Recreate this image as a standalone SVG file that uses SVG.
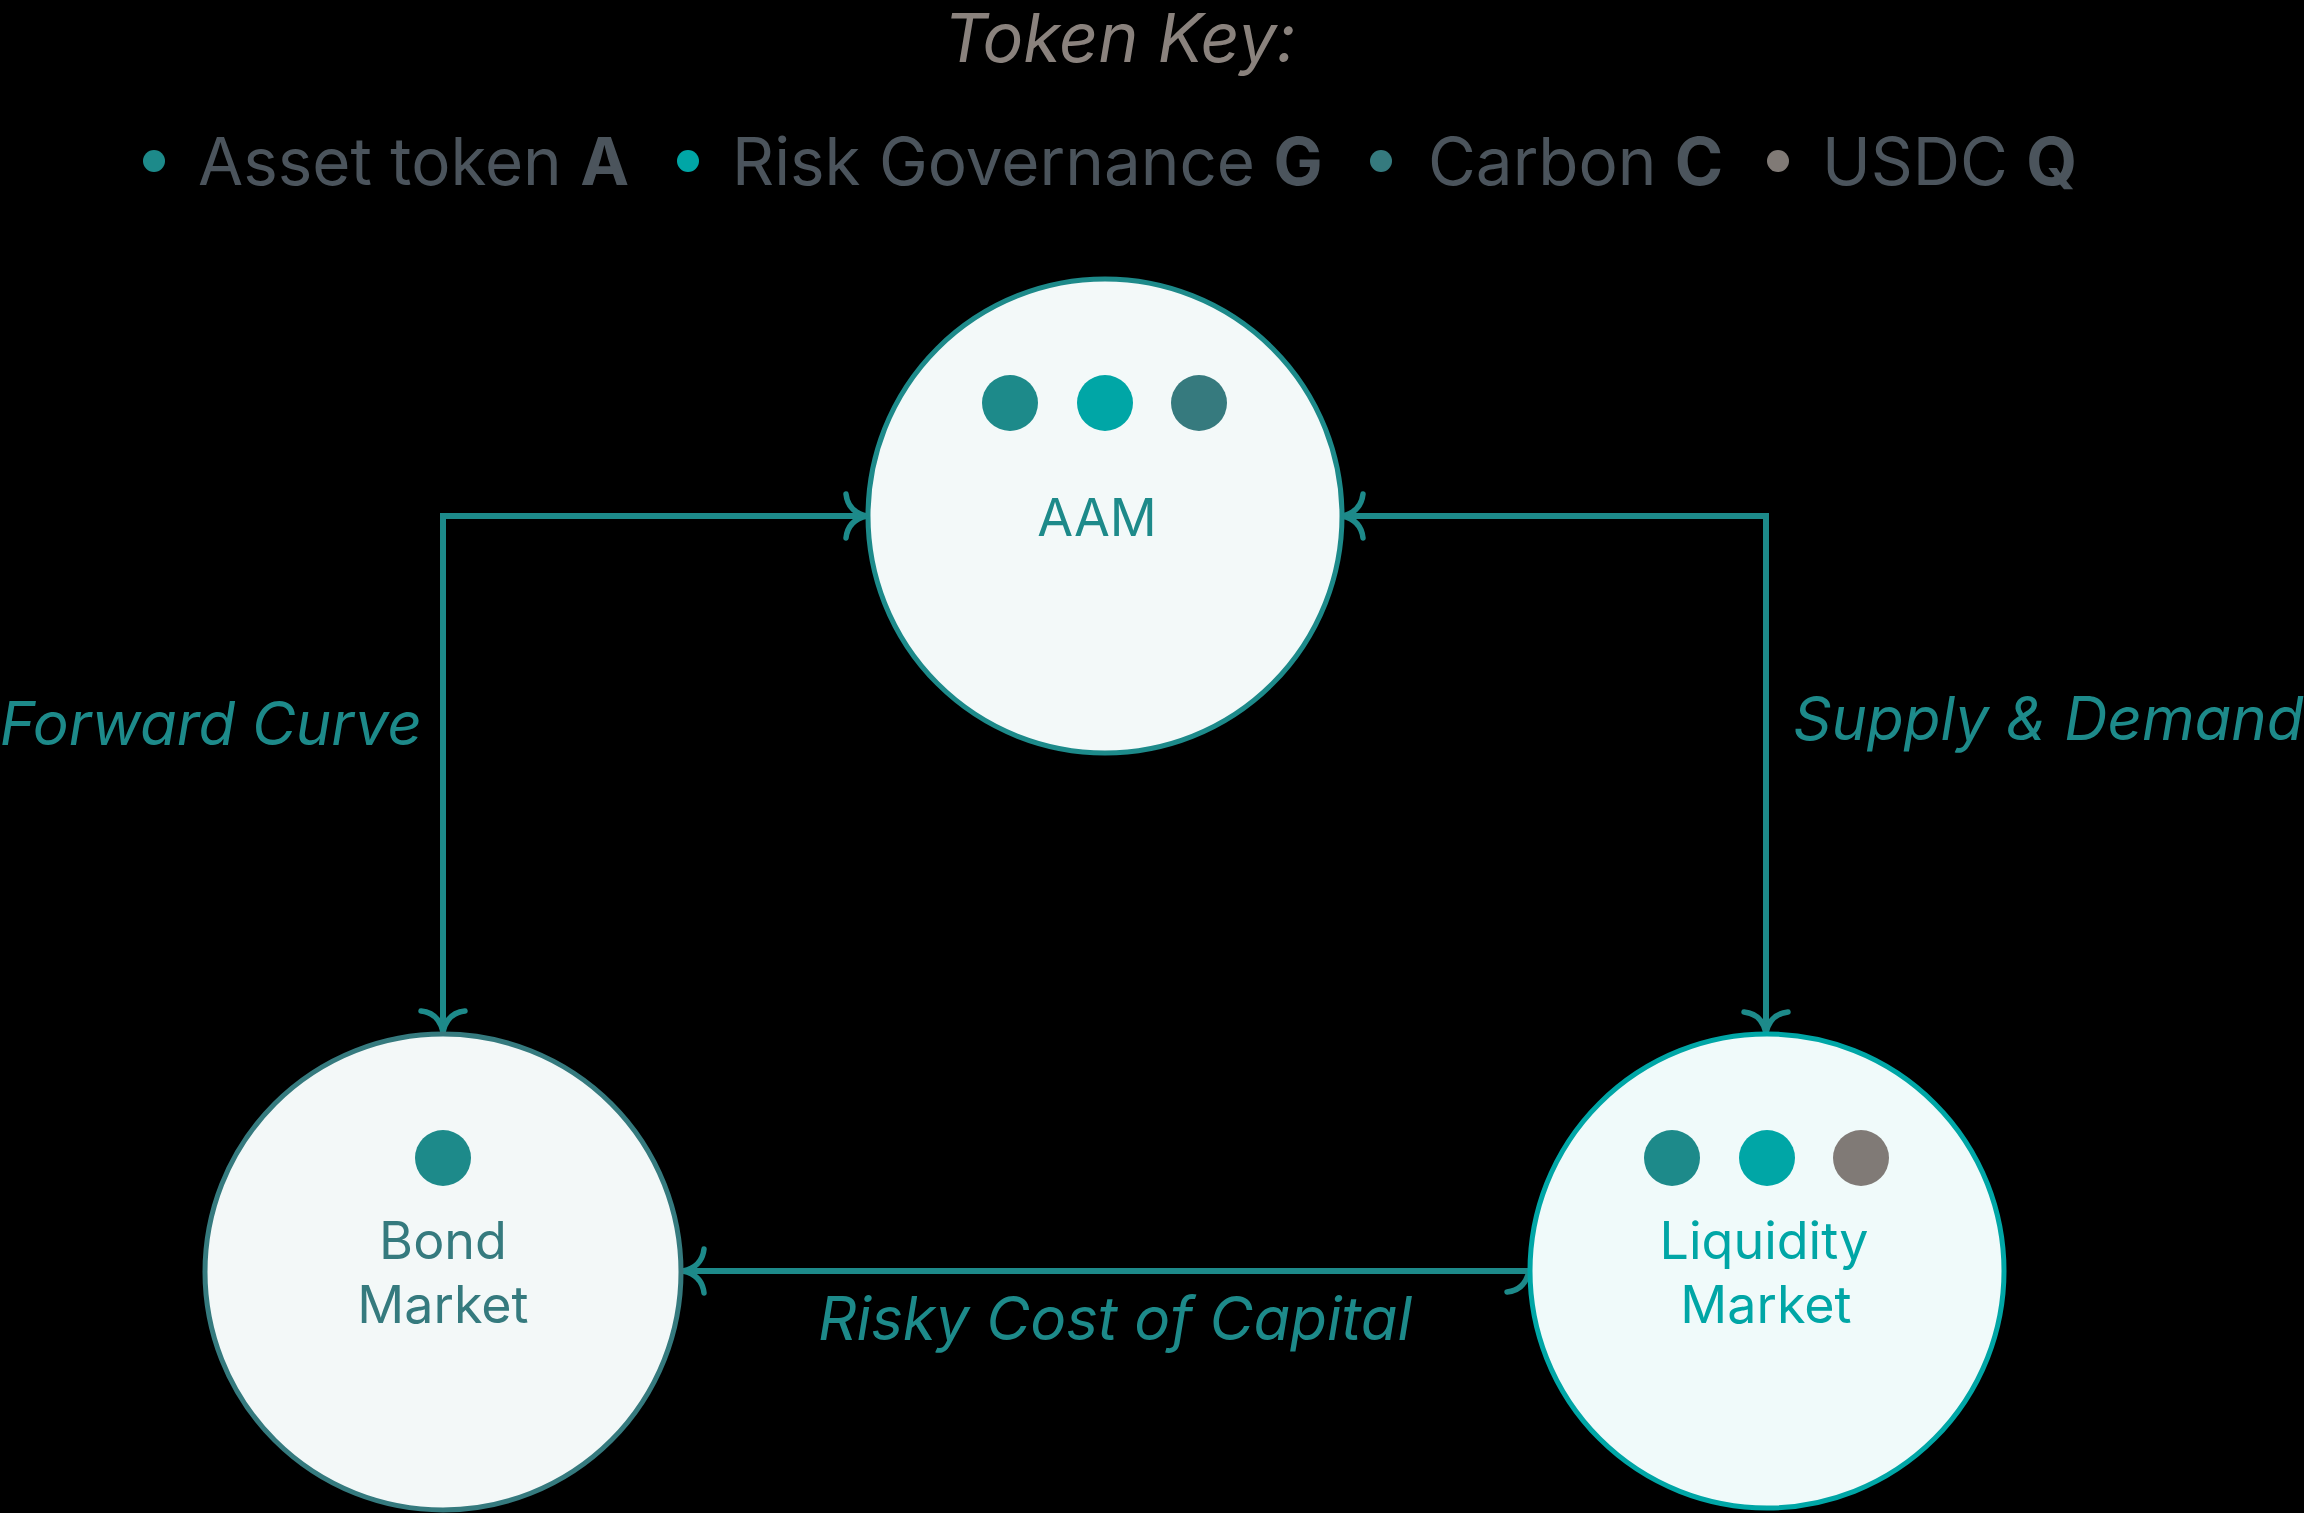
<svg xmlns="http://www.w3.org/2000/svg" width="2304" height="1513" viewBox="0 0 2304 1513">
  <style>
    .t { font-family: Inter, "Liberation Sans", sans-serif; }
    .lbl { font-family: Inter, "Liberation Sans", sans-serif; font-style: italic; font-size: 60px; fill: #1d8a8a; }
    .key { font-family: Inter, "Liberation Sans", sans-serif; font-size: 65.5px; fill: #4b545c; }
    .key tspan.b { font-weight: 700; }
    .node-label { font-family: Inter, "Liberation Sans", sans-serif; font-size: 52px; text-anchor: middle; }
    .conn { fill: none; stroke: #1d8a8a; stroke-width: 6; }
    .head { fill: none; stroke: #1d8a8a; stroke-width: 5.5; stroke-linecap: round; }
  </style>
  <defs>
    <marker id="arrow" markerUnits="userSpaceOnUse" markerWidth="60" markerHeight="60" viewBox="-30 -30 60 60" refX="0" refY="0" orient="auto-start-reverse" overflow="visible">
      <path class="head" d="M -21,-22 Q -19,-4 0,0 M -21,22 Q -19,4 0,0"/>
    </marker>
    <marker id="arrowUp" markerUnits="userSpaceOnUse" markerWidth="60" markerHeight="60" viewBox="-30 -30 60 60" refX="0" refY="0" orient="-90" overflow="visible">
      <path class="head" d="M -21,-22 Q -19,-4 0,0 M -21,22 Q -19,4 0,0"/>
    </marker>
  </defs>
  <rect x="0" y="0" width="2304" height="1513" fill="#000000"/>

  <g id="token-key">
    <text class="t" x="1120" y="62" font-size="68" font-style="italic" fill="#8a827d" text-anchor="middle">Token Key:</text>
    <circle cx="154" cy="161" r="11" fill="#1d8a8a"/>
    <text class="key" x="198" y="185">Asset token <tspan class="b">A</tspan></text>
    <circle cx="688" cy="161" r="11" fill="#00a6a6"/>
    <text class="key" x="732" y="185">Risk Governance <tspan class="b">G</tspan></text>
    <circle cx="1381" cy="161" r="11" fill="#357a7e"/>
    <text class="key" x="1428" y="185">Carbon <tspan class="b">C</tspan></text>
    <circle cx="1778" cy="161" r="11" fill="#807a76"/>
    <text class="key" x="1822" y="185">USDC <tspan class="b">Q</tspan></text>
  </g>

  <g id="connectors">
    <path class="conn" d="M 867,516 H 443 V 1032" marker-start="url(#arrow)" marker-end="url(#arrow)"/>
    <path class="conn" d="M 1342,516 H 1766 V 1033" marker-start="url(#arrow)" marker-end="url(#arrow)"/>
    <path class="conn" d="M 1529,1271 H 683" marker-start="url(#arrowUp)" marker-end="url(#arrow)"/>
    <text class="lbl" x="422" y="745" text-anchor="end">Forward Curve</text>
    <text class="lbl" x="1793" y="740">Supply &amp; Demand</text>
    <text class="lbl" x="1115" y="1340" text-anchor="middle">Risky Cost of Capital</text>
  </g>

  <g id="node-aam">
    <circle cx="1105" cy="516" r="237" fill="#f3f9f9" stroke="#1d8a8a" stroke-width="5"/>
    <circle cx="1010" cy="403" r="28" fill="#1d8a8a"/>
    <circle cx="1105" cy="403" r="28" fill="#00a6a6"/>
    <circle cx="1199" cy="403" r="28" fill="#367a7e"/>
    <text class="node-label" x="1097" y="536" fill="#1d8a8a">AAM</text>
  </g>

  <g id="node-bond-market">
    <circle cx="443" cy="1272" r="238" fill="#f3f8f8" stroke="#357a7e" stroke-width="5"/>
    <circle cx="443" cy="1158" r="28" fill="#1d8a8a"/>
    <text class="node-label" x="443" y="1259" fill="#357a7e">Bond</text>
    <text class="node-label" x="443" y="1323" fill="#357a7e">Market</text>
  </g>

  <g id="node-liquidity-market">
    <circle cx="1767" cy="1271" r="237" fill="#f0fafa" stroke="#00a6a6" stroke-width="5"/>
    <circle cx="1672" cy="1158" r="28" fill="#1d8a8a"/>
    <circle cx="1767" cy="1158" r="28" fill="#00a6a6"/>
    <circle cx="1861" cy="1158" r="28" fill="#807a76"/>
    <text class="node-label" x="1764" y="1259" fill="#00a6a6">Liquidity</text>
    <text class="node-label" x="1766" y="1323" fill="#00a6a6">Market</text>
  </g>
</svg>
